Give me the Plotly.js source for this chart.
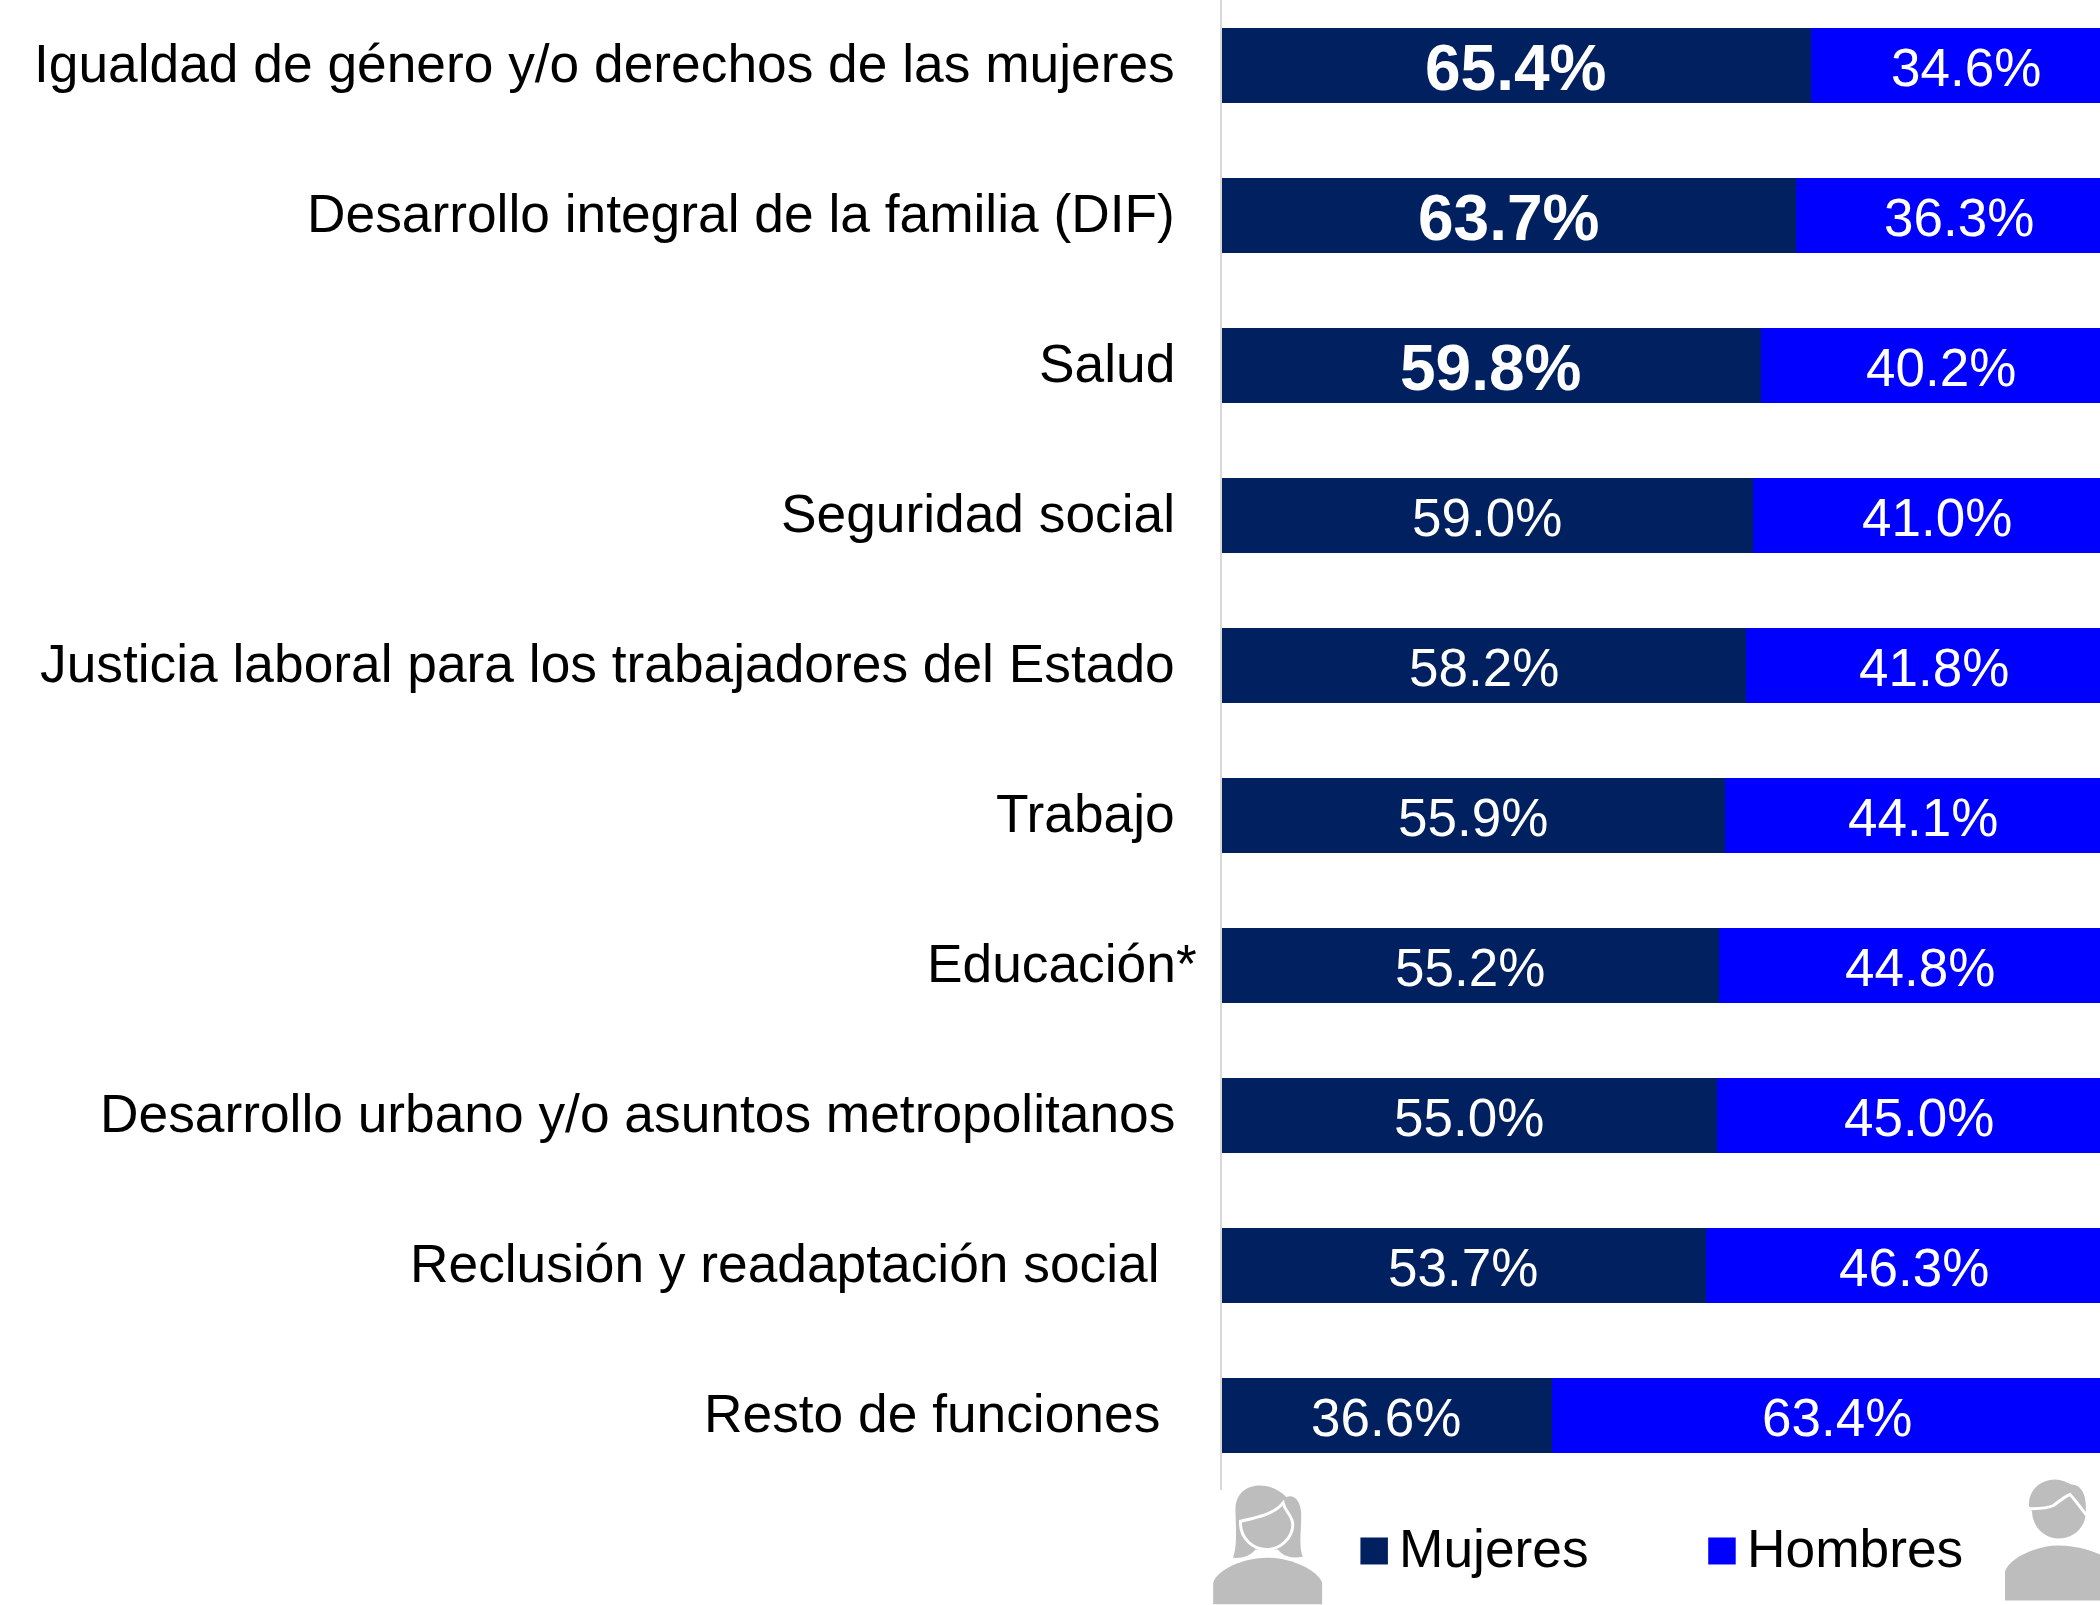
<!DOCTYPE html>
<html>
<head>
<meta charset="utf-8">
<script src="https://cdn.plot.ly/plotly-3.0.1.min.js"></script>
<style>html,body{margin:0;padding:0;background:#fff;overflow:hidden}</style>
</head>
<body>
<div id="chart" style="width:2100px;height:1605px"></div>
<script>
const categories = [
  "Igualdad de género y/o derechos de las mujeres",
  "Desarrollo integral de la familia (DIF)",
  "Salud",
  "Seguridad social",
  "Justicia laboral para los trabajadores del Estado",
  "Trabajo",
  "Educación*",
  "Desarrollo urbano y/o asuntos metropolitanos",
  "Reclusión y readaptación social",
  "Resto de funciones"
];
const mujeres = [65.4, 63.7, 59.8, 59.0, 58.2, 55.9, 55.2, 55.0, 53.7, 36.6];
const hombres = [34.6, 36.3, 40.2, 41.0, 41.8, 44.1, 44.8, 45.0, 46.3, 63.4];
const boldCount = 3;
const colorMujeres = "#002060";
const colorHombres = "#0000FF";
const iconGrey = "#BDBDBD";
const FONT = '"Liberation Sans", Arial, sans-serif';
const W = 2100, H = 1605;
const plotL = 1221.5, plotB = 1490.5;
const px = v => (v - plotL) / (W - plotL);
const py = v => (plotB - v) / plotB;
const fmt = v => v.toFixed(1) + "%";

const labelGap = c => c === "Educación*" ? -23 : (c.startsWith("Reclusión") || c.startsWith("Resto")) ? -60 : -45;

const traces = [
  {type:"bar", orientation:"h", name:"Mujeres", y:categories, x:mujeres,
   marker:{color:colorMujeres}, width:0.5, hoverinfo:"skip", showlegend:false},
  {type:"bar", orientation:"h", name:"Hombres", y:categories, x:hombres,
   marker:{color:colorHombres}, width:0.5, hoverinfo:"skip", showlegend:false}
];

const womanSvg = `<svg xmlns="http://www.w3.org/2000/svg" viewBox="0 0 420 390" width="420" height="390"><path fill="${iconGrey}" d="M97,250 C112,215 105,150 105,105 C105,60 135,33 178,33 C210,33 240,48 258,68 C280,58 300,78 302,115 C304,160 293,215 307,247 C285,252 250,250 232,225 L165,225 C150,245 125,252 97,250 Z"/><path fill="${iconGrey}" stroke="#fff" stroke-width="9" d="M120,140 C165,130 220,120 248,85 C255,115 275,120 277,150 C277,190 240,225 198,225 C155,225 122,190 120,150 Z"/><path fill="${iconGrey}" d="M38,390 L38,325 C50,285 130,250 200,250 C270,250 350,285 365,325 L365,390 Z"/></svg>`;
const manSvg = `<svg xmlns="http://www.w3.org/2000/svg" viewBox="0 0 330 390" width="330" height="390"><path fill="${iconGrey}" d="M117,95 C113,50 150,15 195,15 C215,15 232,25 245,30 C272,32 292,55 287,118 C285,160 250,192 205,192 C165,192 128,160 126,112 Z"/><path fill="none" stroke="#fff" stroke-width="9" d="M112,103 C140,103 170,103 190,93 C205,83 225,65 240,60 C255,75 275,105 292,125"/><path fill="${iconGrey}" d="M45,378 L45,290 C60,250 140,213 205,213 C260,213 310,230 330,240 L330,378 Z"/></svg>`;
const uri = s => "data:image/svg+xml;charset=utf-8," + encodeURIComponent(s);

const legendItems = [
  {label:"Mujeres", color:colorMujeres, x:1360},
  {label:"Hombres", color:colorHombres, x:1708}
];

const valueLabel = (x, v, c, bold) => ({
  x, xref:"x", y:c, yref:"y", text:fmt(v), showarrow:false,
  xanchor:"center", yanchor:"middle", yshift: bold ? -3 : -2, xshift:-0.5,
  font:{family:FONT, size: bold ? 64 : 53, weight: bold ? 700 : 400, color:"#fff"}
});

const layout = {
  width:W, height:H, paper_bgcolor:"#fff", plot_bgcolor:"#fff",
  margin:{l:plotL, r:0, t:0, b:H-plotB, pad:0},
  barmode:"stack", showlegend:false,
  font:{family:FONT, color:"#000"},
  xaxis:{range:[0,97.5], visible:false, fixedrange:true},
  yaxis:{type:"category", categoryorder:"array", categoryarray:categories,
    range:[9.5,-0.4367], showline:true, linecolor:"#D9D9D9", linewidth:2,
    showticklabels:false, ticks:"", showgrid:false, zeroline:false, fixedrange:true},
  annotations: categories.map(c => ({
      x:0, xref:"x", y:c, yref:"y", text:c, showarrow:false,
      xanchor:"right", yanchor:"middle", xshift:labelGap(c), yshift:2,
      font:{family:FONT, size:53.3, color:"#000"}
    })).concat(
      categories.map((c,i) => valueLabel(mujeres[i]/2, mujeres[i], c, i<boldCount)),
      categories.map((c,i) => valueLabel(mujeres[i]+hombres[i]/2, hombres[i], c, false)),
      legendItems.map(it => ({
      x:px(it.x+37), xref:"paper", y:py(1549), yref:"paper", text:it.label, showarrow:false,
      xanchor:"left", yanchor:"middle", xshift:0,
      font:{family:FONT, size:53.3, color:"#000"}
    }))),
  shapes: legendItems.map(it => ({
      type:"rect", xref:"paper", yref:"paper", layer:"above",
      x0:px(it.x), x1:px(it.x+27.5), y0:py(1565), y1:py(1538),
      fillcolor:it.color, line:{width:0}
    })),
  images:[
    {source:uri(womanSvg), xref:"paper", yref:"paper", x:px(1200), y:py(1475),
     sizex:140/(W-plotL), sizey:130/plotB, sizing:"stretch", xanchor:"left", yanchor:"top", layer:"above"},
    {source:uri(manSvg), xref:"paper", yref:"paper", x:px(1990), y:py(1475),
     sizex:110/(W-plotL), sizey:130/plotB, sizing:"stretch", xanchor:"left", yanchor:"top", layer:"above"}
  ]
};
Plotly.newPlot("chart", traces, layout, {displayModeBar:false, staticPlot:true, responsive:false});
</script>
</body>
</html>
